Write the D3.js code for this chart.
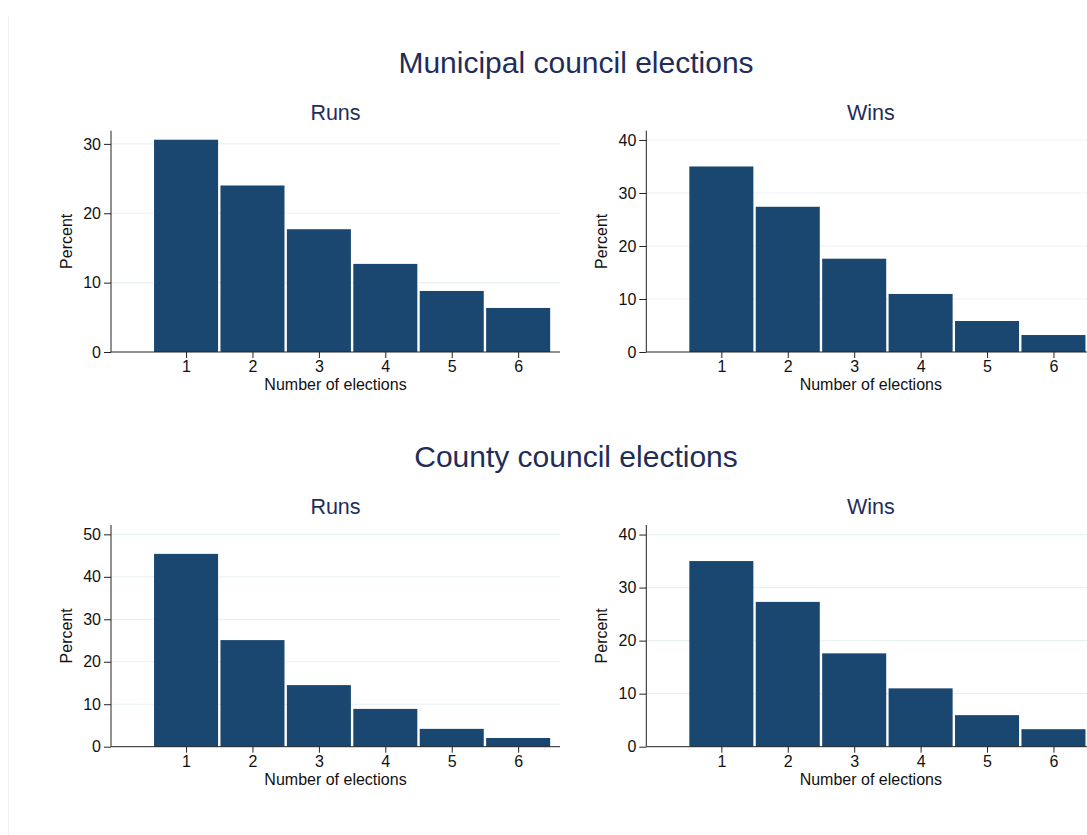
<!DOCTYPE html>
<html>
<head>
<meta charset="utf-8">
<script src="https://cdn.jsdelivr.net/npm/d3@7"></script>
<style>
  html, body { margin: 0; padding: 0; background: #ffffff; }
  svg { display: block; font-family: "Liberation Sans", Arial, sans-serif; }
</style>
</head>
<body>
<svg id="chart" width="1087" height="835"></svg>
<script>
// Number of elections (histogram bins)
const elections = [1, 2, 3, 4, 5, 6];

// Percent of candidates in each bin
const municipalRuns = [30.6, 24.0, 17.7, 12.7, 8.8, 6.35];
const municipalWins = [35.0, 27.4, 17.6, 10.95, 5.85, 3.2];
const countyRuns    = [45.4, 25.1, 14.5, 8.9, 4.2, 2.05];
const countyWins    = [35.0, 27.3, 17.6, 11.0, 5.95, 3.3];

// Y-axis tick labels for each panel
const ticksMunicipalRuns = [0, 10, 20, 30];
const ticksMunicipalWins = [0, 10, 20, 30, 40];
const ticksCountyRuns    = [0, 10, 20, 30, 40, 50];
const ticksCountyWins    = [0, 10, 20, 30, 40];

// Section and panel titles
const sectionTitles = ["Municipal council elections", "County council elections"];
const panelTitles = ["Runs", "Wins"];
const xLabel = "Number of elections";
const yLabel = "Percent";

const barColor = "#1a476f";
const titleColor = "#1f2d5a";
const gridColor = "#eaf2f3";

const svg = d3.select("#chart");

// Outer frame edge on the left
svg.append("line")
  .attr("x1", 8.5).attr("x2", 8.5)
  .attr("y1", 16).attr("y2", 835)
  .attr("stroke", "#edf3f3").attr("stroke-width", 1);

// Panel layout: left edge of plot, plot top/bottom, axis upper bound
const panels = [
  { left: 111,   top: 130.7, bottom: 352,   yMax: 31.9,  values: municipalRuns, ticks: ticksMunicipalRuns, title: panelTitles[0] },
  { left: 646.3, top: 130.7, bottom: 352,   yMax: 41.75, values: municipalWins, ticks: ticksMunicipalWins, title: panelTitles[1] },
  { left: 111,   top: 525,   bottom: 746.7, yMax: 52.2,  values: countyRuns,    ticks: ticksCountyRuns,    title: panelTitles[0] },
  { left: 646.3, top: 525,   bottom: 746.7, yMax: 41.8,  values: countyWins,    ticks: ticksCountyWins,    title: panelTitles[1] }
];

const plotWidth = 449;
const xDomain = [-0.13, 6.63];

// Section titles
const sectionY = [73, 467];
sectionTitles.forEach((t, i) => {
  svg.append("text")
    .attr("x", 576).attr("y", sectionY[i])
    .attr("text-anchor", "middle")
    .attr("font-size", 30)
    .attr("fill", titleColor)
    .text(t);
});

panels.forEach(p => {
  const x = d3.scaleLinear().domain(xDomain).range([p.left, p.left + plotWidth]);
  const y = d3.scaleLinear().domain([0, p.yMax]).range([p.bottom, p.top]);
  const g = svg.append("g");
  const cx = p.left + plotWidth / 2;

  // Horizontal grid lines
  g.selectAll("line.grid")
    .data(p.ticks.filter(d => d > 0))
    .join("line")
    .attr("class", "grid")
    .attr("x1", p.left).attr("x2", p.left + plotWidth)
    .attr("y1", d => y(d)).attr("y2", d => y(d))
    .attr("stroke", gridColor).attr("stroke-width", 1.2);

  // Bars, centred on each bin with a thin white gap
  const unit = x(1) - x(0);
  const gap = 2.4;
  g.selectAll("rect.bar")
    .data(elections.map((e, i) => ({ e, v: p.values[i] })))
    .join("rect")
    .attr("class", "bar")
    .attr("x", d => x(d.e - 0.5) + gap / 2)
    .attr("width", unit - gap)
    .attr("y", d => y(d.v))
    .attr("height", d => y(0) - y(d.v))
    .attr("fill", barColor);

  // Y axis
  const yAxis = g.append("g")
    .attr("transform", `translate(${p.left},0)`)
    .call(d3.axisLeft(y).tickValues(p.ticks).tickSize(7).tickPadding(3).tickFormat(d3.format("d")));
  yAxis.select(".domain").attr("d", `M0,${p.bottom}V${p.top}`).attr("stroke", "#222");
  yAxis.selectAll(".tick line").attr("stroke", "#222");
  yAxis.selectAll(".tick text").attr("font-size", 16).attr("fill", "#111")
    .attr("font-family", '"Liberation Sans", Arial, sans-serif');

  // X axis
  const xAxis = g.append("g")
    .attr("transform", `translate(0,${p.bottom})`)
    .call(d3.axisBottom(x).tickValues(elections).tickSize(6).tickPadding(3).tickFormat(d3.format("d")));
  xAxis.select(".domain").attr("d", `M${p.left},0H${p.left + plotWidth}`).attr("stroke", "#222");
  xAxis.selectAll(".tick line").attr("stroke", "#222");
  xAxis.selectAll(".tick text").attr("font-size", 16).attr("fill", "#111")
    .attr("font-family", '"Liberation Sans", Arial, sans-serif');

  // Panel title
  g.append("text")
    .attr("x", cx).attr("y", p.top - 11)
    .attr("text-anchor", "middle")
    .attr("font-size", 21.5)
    .attr("fill", titleColor)
    .text(p.title);

  // Axis titles
  g.append("text")
    .attr("x", cx).attr("y", p.bottom + 38)
    .attr("text-anchor", "middle")
    .attr("font-size", 16)
    .attr("fill", "#111")
    .text(xLabel);

  g.append("text")
    .attr("transform", `translate(${p.left - 39.5},${(p.top + p.bottom) / 2}) rotate(-90)`)
    .attr("text-anchor", "middle")
    .attr("font-size", 16)
    .attr("fill", "#111")
    .text(yLabel);
});
</script>
</body>
</html>
